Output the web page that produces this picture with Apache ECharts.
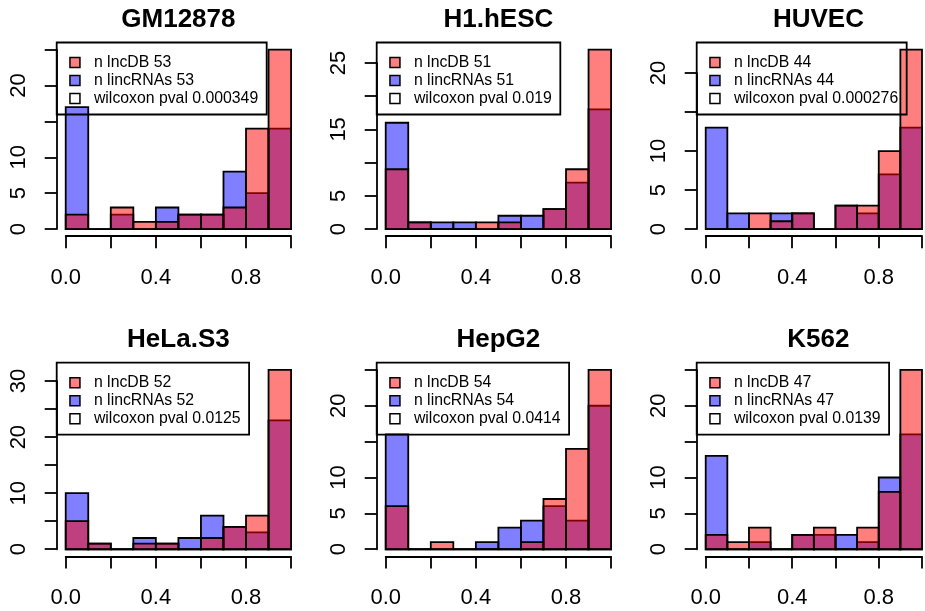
<!DOCTYPE html>
<html>
<head>
<meta charset="utf-8">
<script src="https://cdn.jsdelivr.net/npm/echarts@6/dist/echarts.min.js"></script>
<style>
  html, body { margin: 0; padding: 0; background: #fff; }
  #chart { width: 925px; height: 611px; }
</style>
</head>
<body>
<div id="chart"></div>
<script>
// Cell lines, one histogram panel each (2 rows x 3 columns)
const cellLines = ['GM12878', 'H1.hESC', 'HUVEC', 'HeLa.S3', 'HepG2', 'K562'];

// Histogram bin edges (width 0.1)
const binEdges = [0.0, 0.1, 0.2, 0.3, 0.4, 0.5, 0.6, 0.7, 0.8, 0.9, 1.0];

// Counts per bin, lncDB set
const lncdbGM12878 = [2, 0, 3, 1, 1, 2, 2, 3, 14, 25];
const lncdbH1hESC  = [9, 1, 0, 0, 1, 1, 0, 3, 9, 27];
const lncdbHUVEC   = [0, 0, 2, 1, 2, 0, 3, 3, 10, 23];
const lncdbHeLaS3  = [5, 1, 0, 1, 1, 0, 2, 4, 6, 32];
const lncdbHepG2   = [6, 0, 1, 0, 0, 0, 1, 7, 14, 25];
const lncdbK562    = [2, 1, 3, 0, 2, 3, 0, 3, 8, 25];

// Counts per bin, lincRNAs set
const lincGM12878 = [17, 0, 2, 0, 3, 2, 2, 8, 5, 14];
const lincH1hESC  = [16, 1, 1, 1, 0, 2, 2, 3, 7, 18];
const lincHUVEC   = [13, 2, 0, 2, 2, 0, 3, 2, 7, 13];
const lincHeLaS3  = [10, 1, 0, 2, 1, 2, 6, 4, 3, 23];
const lincHepG2   = [16, 0, 0, 0, 1, 3, 4, 6, 4, 20];
const lincK562    = [13, 0, 1, 0, 2, 2, 2, 1, 10, 16];

// Wilcoxon test p-values as printed in each legend
const wilcoxonP = ['0.000349', '0.019', '0.000276', '0.0125', '0.0414', '0.0139'];

// Y axis: highest tick and the tick labels that are printed
const yTickTop = [25, 25, 20, 30, 25, 25];
const yTickLabels = [[0, 5, 10, 20], [0, 5, 15, 25], [0, 5, 10, 20], [0, 10, 20, 30], [0, 5, 10, 20], [0, 5, 10, 20]];
// X axis: ticks every 0.2, printed labels
const xTickLabels = ['0.0', '0.4', '0.8'];

const lncdbCounts = [lncdbGM12878, lncdbH1hESC, lncdbHUVEC, lncdbHeLaS3, lncdbHepG2, lncdbK562];
const lincCounts = [lincGM12878, lincH1hESC, lincHUVEC, lincHeLaS3, lincHepG2, lincK562];

// ---- layout (pixels) ----
const FONT = "'Liberation Sans', Arial, Helvetica, sans-serif";
const colLeft = [56.7, 376.7, 696.7];   // left edge of each plot region
const rowTop = [42.5, 362.7];           // top edge of each plot region
const plotW = 243.4, plotH = 193.7;     // plot region incl. 4% padding each side
const PAD = 0.04;
const RED = 'rgba(255,0,0,0.5)';
const BLUE = 'rgba(0,0,255,0.5)';
const LW = 1.8;

const sum = a => a.reduce((s, v) => s + v, 0);

const grids = [], xAxes = [], yAxes = [], series = [], titles = [], legends = [];

cellLines.forEach((name, i) => {
  const col = i % 3, row = Math.floor(i / 3);
  const x0 = colLeft[col], y0 = rowTop[row];
  const ymax = Math.max(...lncdbCounts[i], ...lincCounts[i]);
  const pxPerX = plotW / (1 + 2 * PAD);
  const pxPerY = plotH / (ymax * (1 + 2 * PAD));
  const zeroY = y0 + plotH - PAD * ymax * pxPerY;
  const gLeft = x0 + PAD * pxPerX;
  const gHeight = yTickTop[i] * pxPerY;

  grids.push({ left: gLeft, width: pxPerX, top: zeroY - gHeight, height: gHeight, containLabel: false });

  xAxes.push({
    type: 'value', gridIndex: i, min: 0, max: 1, interval: 0.2,
    offset: PAD * ymax * pxPerY,
    axisLine: { show: true, onZero: false, lineStyle: { color: '#000', width: LW } },
    axisTick: { show: true, length: 12, lineStyle: { color: '#000', width: LW } },
    splitLine: { show: false },
    axisLabel: {
      margin: 31, fontSize: 22, fontFamily: FONT, color: '#000',
      showMinLabel: true, showMaxLabel: true,
      formatter: v => { const s = v.toFixed(1); return xTickLabels.includes(s) ? s : ''; }
    }
  });

  const shown = yTickLabels[i];
  yAxes.push({
    type: 'value', gridIndex: i, min: 0, max: yTickTop[i], interval: 5,
    offset: PAD * pxPerX,
    axisLine: { show: true, onZero: false, lineStyle: { color: '#000', width: LW } },
    axisTick: { show: true, length: 12, lineStyle: { color: '#000', width: LW } },
    splitLine: { show: false },
    axisLabel: {
      rotate: 90, align: 'center', verticalAlign: 'bottom',
      margin: 27, fontSize: 22, fontFamily: FONT, color: '#000',
      showMinLabel: true, showMaxLabel: true,
      formatter: v => (shown.includes(v) ? String(v) : '')
    }
  });

  const binData = counts => counts.map((c, k) => [binEdges[k], binEdges[k + 1], c]);
  const renderBar = fill => (params, api) => {
    const p0 = api.coord([api.value(0), api.value(2)]);
    const p1 = api.coord([api.value(1), 0]);
    return {
      type: 'rect',
      shape: { x: p0[0], y: p0[1], width: p1[0] - p0[0], height: p1[1] - p0[1] },
      style: { fill: fill, stroke: '#000', lineWidth: LW }
    };
  };

  const nLnc = 'n lncDB ' + sum(lncdbCounts[i]);
  const nLinc = 'n lincRNAs ' + sum(lincCounts[i]);
  const pName = 'wilcoxon pval ' + wilcoxonP[i];

  // lincRNAs drawn first, lncDB overlaid on top
  series.push({
    type: 'custom', name: nLinc, xAxisIndex: i, yAxisIndex: i, clip: false,
    renderItem: renderBar(BLUE), data: binData(lincCounts[i]), z: 2,
    itemStyle: { color: BLUE }, silent: true
  });
  series.push({
    type: 'custom', name: nLnc, xAxisIndex: i, yAxisIndex: i, clip: false,
    renderItem: renderBar(RED), data: binData(lncdbCounts[i]), z: 3,
    itemStyle: { color: RED }, silent: true
  });
  series.push({
    type: 'custom', name: pName, xAxisIndex: i, yAxisIndex: i,
    renderItem: () => null, data: [], itemStyle: { color: '#fff' }, silent: true
  });

  // panel title, centred over the plot region
  titles.push({
    type: 'text', silent: true,
    x: x0 + plotW / 2, y: y0 - 23,
    style: {
      text: name, textAlign: 'center', textVerticalAlign: 'middle',
      font: 'bold 26px ' + FONT, fill: '#000'
    }
  });

  const icon = c => ({ color: c, borderColor: '#000', borderWidth: 1.5 });
  legends.push({
    orient: 'vertical', left: x0, top: y0, selectedMode: false,
    padding: [11, 8.5, 7, 12.5],
    backgroundColor: 'transparent', borderColor: '#000', borderWidth: LW,
    icon: 'rect', itemWidth: 10, itemHeight: 10, itemGap: 0,
    textStyle: { fontSize: 15.8, lineHeight: 18, fontFamily: FONT, color: '#000', padding: [0, 0, 0, 9] },
    data: [
      { name: nLnc, itemStyle: icon('rgb(255,128,128)') },
      { name: nLinc, itemStyle: icon('rgb(128,128,255)') },
      { name: pName, itemStyle: icon('#fff') }
    ],
    z: 10
  });
});

const chart = echarts.init(document.getElementById('chart'), null, { renderer: 'canvas' });
chart.setOption({
  backgroundColor: '#fff',
  animation: false,
  graphic: titles,
  legend: legends,
  grid: grids,
  xAxis: xAxes,
  yAxis: yAxes,
  series: series
});
</script>
</body>
</html>
